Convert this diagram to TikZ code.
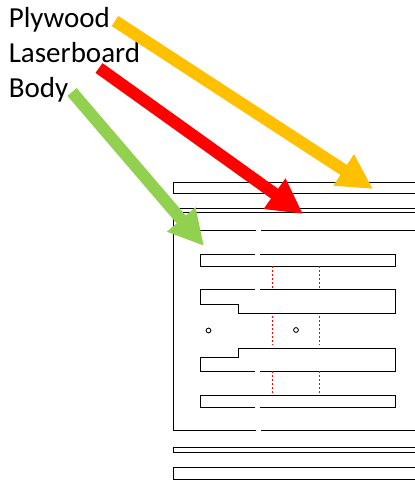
\documentclass[tikz,border=0pt]{standalone}
\usepackage{fontspec}
\setmainfont{Carlito}
\usetikzlibrary{arrows.meta}
\definecolor{plywoodcol}{RGB}{255,192,0}
\definecolor{lasercol}{RGB}{255,0,0}
\definecolor{bodycol}{RGB}{146,208,80}
\begin{document}
\begin{tikzpicture}[x=1pt,y=-1pt,semithick]
	\tikzstyle{every node}=[font=\fontsize{29}{29}\selectfont,inner sep=0pt,anchor=base west]
	\tikzstyle{cut}=[draw=black,line width=0.85pt,line join=miter]
	\tikzstyle{fold}=[draw=red,line width=0.7pt,dash pattern=on 2pt off 2pt]
	\tikzstyle{pointer}=[line width=12pt,-{Triangle[length=35pt,width=35pt]}]
	\useasboundingbox (0,0) rectangle (415,480);

	\node (L_0) at (8.5,27) {Plywood};
	\node (L_1) at (8.5,62.5) {Laserboard};
	\node (L_2) at (8.5,97) {Body};

	\coordinate (P_0) at (115,21);
	\coordinate (P_1) at (373,189);
	\coordinate (R_0) at (99,68);
	\coordinate (R_1) at (303,214);
	\coordinate (B_0) at (72,92);
	\coordinate (B_1) at (204,246);

	\path[cut] (415,182) -- (173.5,182) -- (173.5,193) -- (415,193);
	\path[cut] (415,208) -- (173.5,208) -- (173.5,212.5) -- (415,212.5);
	\path[cut] (173.5,212.5) -- (173.5,430) -- (256,430);
	\path[cut] (261,430) -- (415,430);
	\path[cut] (173.5,230) -- (256,230);
	\path[cut] (261,230) -- (415,230);

	\path[cut] (254.5,254) -- (200,254) -- (200,266) -- (395,266) -- (395,254) -- (259.5,254);
	\path[cut] (254.5,289) -- (200,289) -- (200,304) -- (238,304) -- (238,313) -- (395,313) -- (395,289) -- (259.5,289);
	\path[cut] (254.5,371) -- (200,371) -- (200,357) -- (238,357) -- (238,348) -- (395,348) -- (395,371) -- (259.5,371);
	\path[cut] (254.5,407) -- (200,407) -- (200,395) -- (395,395) -- (395,407) -- (259.5,407);

	\foreach \x in {272.5,319} {
		\path[fold] (\x,266) -- (\x,289);
		\path[fold] (\x,316) -- (\x,345);
		\path[fold] (\x,371) -- (\x,395);
	}

	\draw[cut] (208.5,330.5) circle (2.4pt);
	\draw[cut] (296,330) circle (2.4pt);

	\path[cut] (415,447.5) -- (173.5,447.5) -- (173.5,452) -- (415,452);
	\path[cut] (415,467) -- (173.5,467) -- (173.5,479) -- (415,479);

	\draw[pointer,plywoodcol] (P_0) -- (P_1);
	\draw[pointer,lasercol] (R_0) -- (R_1);
	\draw[pointer,bodycol] (B_0) -- (B_1);
\end{tikzpicture}
\end{document}
